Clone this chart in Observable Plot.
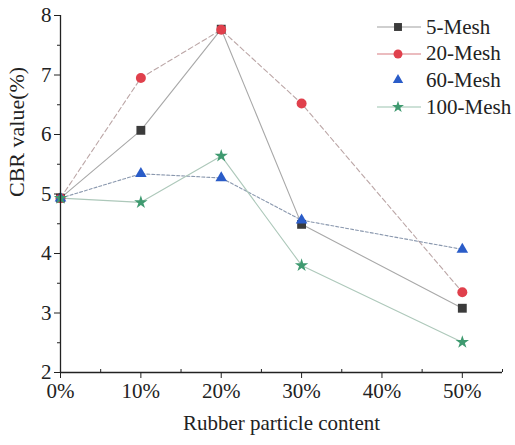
<!DOCTYPE html>
<html><head><meta charset="utf-8">
<script src="https://cdn.jsdelivr.net/npm/d3@7"></script>
<script src="https://cdn.jsdelivr.net/npm/@observablehq/plot@0.6"></script>
<style>
body{margin:0;background:#fff;}
#wrap{position:relative;width:515px;height:445px;font-family:'Liberation Serif','DejaVu Serif',serif;}
#wrap svg text{font-family:'Liberation Serif','DejaVu Serif',serif !important;}
#legend{position:absolute;left:376px;top:14px;}
.row{display:flex;align-items:center;height:26.6px;font-size:21px;color:#222;}
.row svg{margin-right:4px;}
</style>
</head><body><div id="wrap"><div id="legend"></div></div>
<script>
const contents = [0, 10, 20, 30, 50];
const series = ["5-Mesh", "20-Mesh", "60-Mesh", "100-Mesh"];
const mesh5   = [4.93, 6.07, 7.77, 4.49, 3.08];
const mesh20  = [4.93, 6.95, 7.76, 6.52, 3.35];
const mesh60  = [4.93, 5.34, 5.27, 4.56, 4.07];
const mesh100 = [4.93, 4.86, 5.64, 3.80, 2.51];
const xTicks = [0, 10, 20, 30, 40, 50];
const xMinor = [5, 15, 25, 35, 45, 55];
const yTicks = [2, 3, 4, 5, 6, 7, 8];
const yMinor = [2.5, 3.5, 4.5, 5.5, 6.5, 7.5];
const xLabel = "Rubber particle content";
const yLabel = "CBR value(%)";

const values = [mesh5, mesh20, mesh60, mesh100];
const symbols = ["square", "circle", "triangle", "star"];
const fills = ["#3b3b3b", "#e0404c", "#2a5cc8", "#3f9a70"];
const lineColors = ["#a8a8a8", "#bba6a6", "#8a98ae", "#adc8ba"];
const dashes = [null, "5,3", "3,2", null];
const radii = [5, 5, 4.3, 4.2];
const legendLines = ["#a0a0a0", "#d87a80", "none", "#9cc4b0"];

const tables = series.map((s, i) => contents.map((c, j) => ({series: s, content: c, value: values[i][j]})));

const marks = [];
tables.forEach((t, i) => {
  marks.push(Plot.line(t, {x: "content", y: "value", stroke: lineColors[i], strokeWidth: 1.1, strokeDasharray: dashes[i]}));
});
tables.forEach((t, i) => {
  marks.push(Plot.dot(t, {x: "content", y: "value", symbol: () => symbols[i], fill: fills[i], r: radii[i], stroke: null}));
});

const font = "'Liberation Serif','DejaVu Serif',serif";
const chart = Plot.plot({
  width: 515,
  height: 445,
  marginLeft: 60,
  marginRight: 13,
  marginTop: 15,
  marginBottom: 73,
  style: {fontFamily: font, fontSize: "21px", color: "#222", background: "#fff"},
  x: {domain: [0, 55], axis: null},
  y: {domain: [2, 8], axis: null},
  symbol: {type: "identity"},
  marks: [
    ...marks,
    Plot.ruleX([0], {stroke: "#222", strokeWidth: 1.3}),
    Plot.ruleY([2], {stroke: "#222", strokeWidth: 1.3}),
    Plot.axisX({ticks: xTicks, tickFormat: d => d + "%", tickSize: 6, tickPadding: 5, label: null, fontSize: 21}),
    Plot.axisX({ticks: xMinor, tickFormat: () => "", tickSize: -3, label: null}),
    Plot.axisY({ticks: yTicks, tickFormat: d => String(d), tickSize: 6, tickPadding: 3, label: null, fontSize: 21}),
    Plot.axisY({ticks: yMinor, tickFormat: () => "", tickSize: 3, label: null}),
    Plot.text([xLabel], {text: d => d, frameAnchor: "bottom", dy: 57, fontSize: 21, fill: "#222", fontFamily: font}),
    Plot.text([yLabel], {text: d => d, frameAnchor: "left", dx: -44, dy: 3, rotate: -90, fontSize: 22, fill: "#222", fontFamily: font})
  ]
});
document.getElementById("wrap").prepend(chart);

const legend = document.getElementById("legend");
series.forEach((s, i) => {
  const row = document.createElement("div");
  row.className = "row";
  const svg = d3.create("svg").attr("width", 46).attr("height", 20);
  if (legendLines[i] !== "none") svg.append("line").attr("x1", 1).attr("x2", 45).attr("y1", 10).attr("y2", 10).attr("stroke", legendLines[i]).attr("stroke-width", 1.2);
  const sym = {square: d3.symbolSquare, circle: d3.symbolCircle, triangle: d3.symbolTriangle, star: d3.symbolStar}[symbols[i]];
  svg.append("path").attr("transform", "translate(22,10)").attr("d", d3.symbol(sym, Math.PI * radii[i] * radii[i] * 0.8)()).attr("fill", fills[i]);
  row.appendChild(svg.node());
  const span = document.createElement("span");
  span.textContent = s;
  row.appendChild(span);
  legend.appendChild(row);
});
</script>
</body></html>
